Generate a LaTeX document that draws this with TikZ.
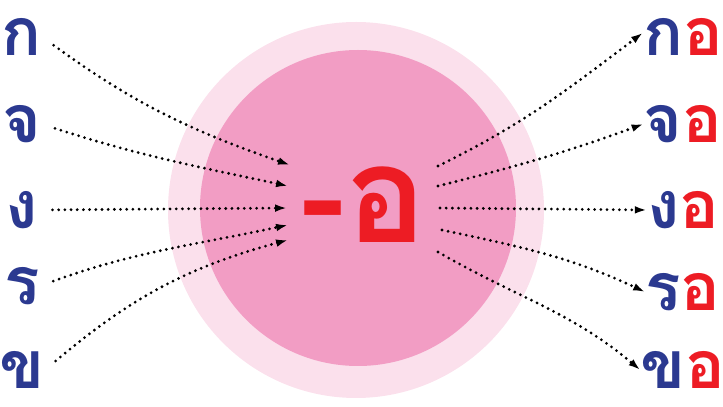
\documentclass[tikz,border=0pt]{standalone}
\usepackage{fontspec}
\newfontfamily\thaifont[Script=Thai]{Loma}
\definecolor{consblue}{RGB}{43, 57, 144}
\definecolor{vowelred}{RGB}{237, 28, 36}
\definecolor{ringpink}{RGB}{251, 224, 236}
\definecolor{discpink}{RGB}{242, 157, 196}
\usepackage{tikz}
\usetikzlibrary{arrows.meta, positioning}

\begin{document}
\begin{tikzpicture}[x=0.025cm, y=0.025cm,
    cons/.style={inner sep=0pt, text=consblue, font=\thaifont\bfseries\fontsize{47}{47}\selectfont},
    flow/.style={line width=2.2pt, line cap=round, dash pattern=on 0pt off 4.4pt,
        -{Latex[length=8.5pt,width=5.5pt]}}]
            \useasboundingbox (0,0) rectangle (723,407);
            \fill[ringpink] (356,197) circle (188);
            \fill[discpink] (358,199) circle (158);
            \node[inner sep=0pt, text=vowelred, font=\thaifont\bfseries\fontsize{96}{96}\selectfont] (c) at (364,202) {-อ};
            \node[cons] (l1) at (22,370) {ก};
            \node[cons] (l2) at (22,283) {จ};
            \node[cons] (l3) at (22,197) {ง};
            \node[cons] (l4) at (22,121) {ร};
            \node[cons] (l5) at (22,37) {ข};
            \node[cons] (r1) at (683,370) {ก\textcolor{vowelred}{อ}};
            \node[cons] (r2) at (683,283) {จ\textcolor{vowelred}{อ}};
            \node[cons] (r3) at (683,197) {ง\textcolor{vowelred}{อ}};
            \node[cons] (r4) at (683,115) {ร\textcolor{vowelred}{อ}};
            \node[cons] (r5) at (683,37) {ข\textcolor{vowelred}{อ}};
            \coordinate (i1) at (290,242);
            \coordinate (i2) at (288,221);
            \coordinate (i3) at (287,199);
            \coordinate (i4) at (288,182);
            \coordinate (i5) at (288,167);
            \coordinate (o1) at (438,241);
            \coordinate (o2) at (438,221);
            \coordinate (o3) at (440,199);
            \coordinate (o4) at (442,177);
            \coordinate (o5) at (438,155);
            \draw[flow, shorten <=10pt] (l1.east) to[out=-36, in=161] (i1);
            \draw[flow, shorten <=10pt] (l2.east) to[out=-18, in=168] (i2);
            \draw[flow, shorten <=10pt] (l3.east) -- (i3);
            \draw[flow, shorten <=10pt] (l4.east) to[out=20, in=192] (i4);
            \draw[flow, shorten <=10pt] (l5.east) to[out=40, in=195] (i5);
            \draw[flow] (o1) to[out=26, in=217] ([yshift=3pt]r1.west);
            \draw[flow] (o2) to[out=14, in=200] (r2.west);
            \draw[flow] (o3) -- (r3.west);
            \draw[flow] (o4) to[out=-12, in=155] (r4.west);
            \draw[flow] (o5) to[out=-30, in=140] (r5.west);
        \end{tikzpicture}
\end{document}
